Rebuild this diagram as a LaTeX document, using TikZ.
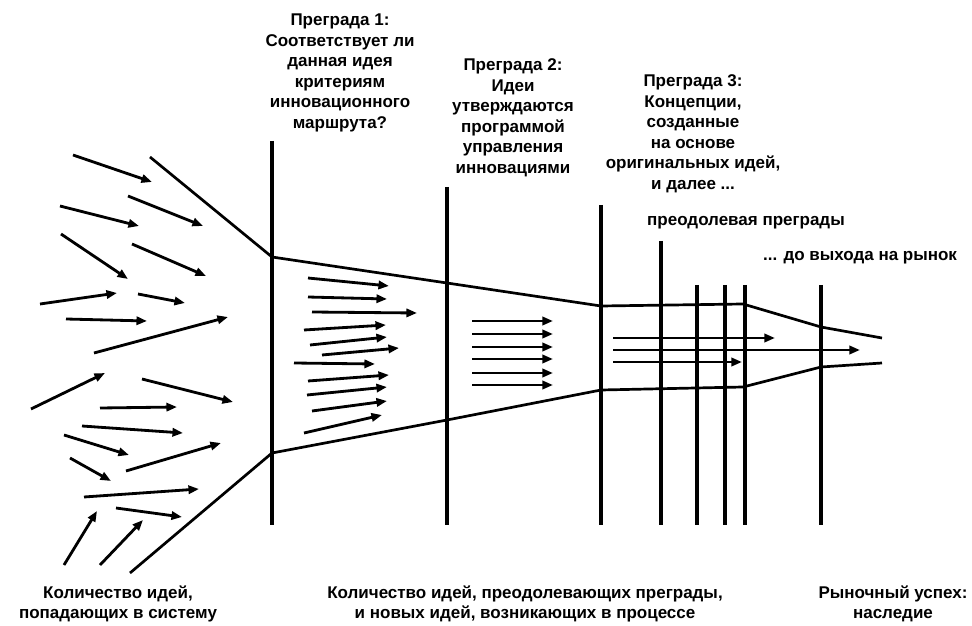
\documentclass[tikz,border=0pt]{standalone}
\usepackage{fontspec}
\setmainfont{Liberation Sans}
\usetikzlibrary{arrows.meta}

\begin{document}
\begin{tikzpicture}[
  x=0.3mm, y=-0.3mm,
  barrera/.style={line width=2.8pt},
  borde/.style={line width=2.3pt, line join=round},
  flecha/.style={-{Triangle[length=9pt,width=7pt]}, line width=2.4pt},
  rotulo/.style={align=center, inner sep=0pt,
                 font=\bfseries\fontsize{14.5}{17.5}\selectfont}
]
  \useasboundingbox (0,0) rectangle (972,626);

  % barreras verticales
  \foreach \x/\y in {272/141, 447/187, 601/205, 661/241, 697/285, 725/285, 745/285, 821/285}
    \draw[barrera] (\x,\y) -- (\x,525);

  % embudo
  \coordinate (s0) at (150,157);
  \coordinate (s1) at (272,257);
  \coordinate (s2) at (447,283);
  \coordinate (s3) at (601,306);
  \coordinate (s4) at (743,304);
  \coordinate (s5) at (821,327);
  \coordinate (s6) at (882,338);
  \coordinate (i0) at (130,573);
  \coordinate (i1) at (272,453);
  \coordinate (i2) at (447,420);
  \coordinate (i3) at (601,390);
  \coordinate (i4) at (743,387);
  \coordinate (i5) at (821,367);
  \coordinate (i6) at (882,363);
  \draw[borde] (s0) -- (s1) -- (s2) -- (s3) -- (s4) -- (s5) -- (s6);
  \draw[borde] (i0) -- (i1) -- (i2) -- (i3) -- (i4) -- (i5) -- (i6);

  % ideas que entran
  \foreach \a/\b/\c/\d in {73/155/152/182, 128/196/203/226, 60/206/139/226,
      61/234/128/279, 132/244/206/276, 40/304/117/293, 138/294/185/303,
      66/319/147/321, 94/353/228/317, 31/409/105/373, 142/379/233/402,
      100/408/177/407, 82/426/183/433, 64/435/129/455, 70/458/111/481,
      126/471/221/443, 84/497/199/489, 116/508/182/517, 64/565/97/511,
      100/565/143/520}
    \draw[flecha] (\a,\b) -- (\c,\d);

  % tras la barrera 1
  \foreach \a/\b/\c/\d in {308/278/389/286, 308/297/387/299, 312/312/417/313,
      304/330/386/325, 310/345/387/337, 322/355/399/348, 294/363/375/364,
      308/381/389/375, 307/395/387/387, 312/411/387/401, 304/433/382/415}
    \draw[flecha] (\a,\b) -- (\c,\d);

  % tras la barrera 2
  \foreach \y in {321, 334, 347, 359, 373, 385}
    \draw[flecha] (472,\y) -- (553,\y);

  % tras la barrera 3
  \draw[flecha] (613,338) -- (775,338);
  \draw[flecha] (613,350) -- (860,350);
  \draw[flecha] (613,362) -- (742,362);

  % textos
  \node[rotulo] (preg1) at (340,73) {Преграда 1:\\Соответствует ли\\данная идея\\критериям\\инновационного\\маршрута?};
  \node[rotulo] (preg2) at (513,118) {Преграда 2:\\Идеи\\утверждаются\\программой\\управления\\инновациями};
  \node[rotulo] (preg3) at (693,134) {Преграда 3:\\Концепции,\\созданные\\на основе\\оригинальных идей,\\и далее ...};
  \node[rotulo] (superando) at (746,223) {преодолевая преграды};
  \node[rotulo] (mercado) at (860,258) {... до выхода на рынок};
  \node[rotulo] (entrada) at (118,604) {Количество идей,\\попадающих в систему};
  \node[rotulo] (proceso) at (525,604) {Количество идей, преодолевающих преграды,\\и новых идей, возникающих в процессе};
  \node[rotulo] (exito) at (893,604) {Рыночный успех:\\наследие};
\end{tikzpicture}
\end{document}
